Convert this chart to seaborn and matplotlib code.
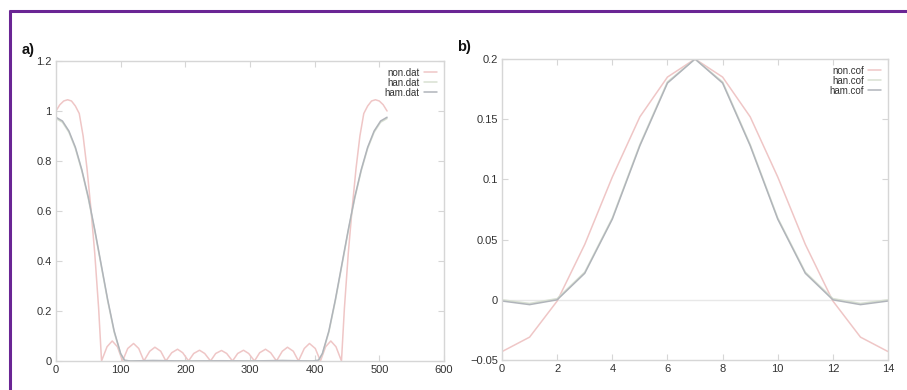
import matplotlib
matplotlib.use("Agg")
import matplotlib.pyplot as plt
from matplotlib.lines import Line2D
import seaborn as sns
import pandas as pd

# ---------------- data: panel a (frequency responses) ----------------
non_dat_x = [0, 6, 12, 18, 24, 30, 36, 42, 48, 54, 60, 66, 70.5,
             79, 87, 95, 103,
             111, 120, 128, 136,
             145, 153, 162, 170,
             179, 188, 196, 205,
             213, 222, 230, 239,
             247, 256, 264, 273,
             281, 290, 298, 307,
             315, 324, 332, 341,
             350, 358, 367, 375,
             384, 392, 401, 409,
             417, 425, 433, 441.5,
             446, 452, 458, 464, 470, 476, 482, 488, 494, 500, 506, 512]
non_dat_y = [1.00, 1.025, 1.04, 1.045, 1.04, 1.02, 0.99, 0.90, 0.77, 0.61, 0.43, 0.21, 0.0,
             0.057, 0.08, 0.057, 0.0,
             0.05, 0.07, 0.05, 0.0,
             0.039, 0.055, 0.039, 0.0,
             0.033, 0.047, 0.033, 0.0,
             0.030, 0.043, 0.030, 0.0,
             0.030, 0.042, 0.030, 0.0,
             0.030, 0.043, 0.030, 0.0,
             0.033, 0.047, 0.033, 0.0,
             0.039, 0.055, 0.039, 0.0,
             0.05, 0.07, 0.05, 0.0,
             0.057, 0.08, 0.057, 0.0,
             0.21, 0.43, 0.61, 0.77, 0.90, 0.99, 1.02, 1.04, 1.045, 1.04, 1.025, 1.00]

ham_dat_x = [0, 10, 20, 30, 40, 50, 60, 70, 80, 90, 100, 106, 115, 150, 200, 256,
             300, 350, 397, 406, 412, 422, 432, 442, 452, 462, 472, 482, 492, 502, 512]
ham_dat_y = [0.975, 0.96, 0.92, 0.855, 0.765, 0.655, 0.525, 0.385, 0.245, 0.12, 0.03, 0.003, 0.0,
             0.002, 0.0, 0.001, 0.0, 0.002, 0.0, 0.003, 0.03, 0.12, 0.245, 0.385, 0.525,
             0.655, 0.765, 0.855, 0.92, 0.96, 0.975]
han_dat_x = ham_dat_x
han_dat_y = [0.97, 0.955, 0.915, 0.85, 0.76, 0.65, 0.52, 0.38, 0.24, 0.115, 0.028, 0.002, 0.0,
             0.0, 0.001, 0.0, 0.001, 0.0, 0.0, 0.002, 0.028, 0.115, 0.24, 0.38, 0.52,
             0.65, 0.76, 0.85, 0.915, 0.955, 0.97]

# ---------------- data: panel b (filter coefficients) ----------------
cof_x = list(range(15))
non_cof = [-0.043, -0.031, -0.001, 0.046, 0.102, 0.152, 0.185, 0.200,
           0.185, 0.152, 0.102, 0.046, -0.001, -0.031, -0.043]
han_cof = [0.0, -0.003, 0.001, 0.023, 0.068, 0.129, 0.181, 0.200,
           0.181, 0.129, 0.068, 0.023, 0.001, -0.003, 0.0]
ham_cof = [-0.001, -0.004, 0.0, 0.022, 0.067, 0.128, 0.180, 0.200,
           0.180, 0.128, 0.067, 0.022, 0.0, -0.004, -0.001]

a_xticks = [0, 100, 200, 300, 400, 500, 600]
a_yticks = [0, 0.2, 0.4, 0.6, 0.8, 1.0, 1.2]
a_ylabels = ["0", "0.2", "0.4", "0.6", "0.8", "1", "1.2"]
b_xticks = [0, 2, 4, 6, 8, 10, 12, 14]
b_yticks = [-0.05, 0, 0.05, 0.1, 0.15, 0.2]
b_ylabels = ["\u22120.05", "0", "0.05", "0.1", "0.15", "0.2"]

a_names = ["non.dat", "han.dat", "ham.dat"]
b_names = ["non.cof", "han.cof", "ham.cof"]

# ---------------- style ----------------
sns.set_theme(style="white")
plt.rcParams["font.family"] = ["Liberation Sans", "DejaVu Sans"]

C_NON = "#efc6c6"
C_HAN = "#d8e0d2"
C_HAM = "#b0b4ba"
FRAME = "#d6d6d6"
colors = [C_NON, C_HAN, C_HAM]
LW = 1.1

fig = plt.figure(figsize=(9.07, 3.90), dpi=100)
fig.patch.set_facecolor("white")

ax_a = fig.add_axes([0.0617, 0.0744, 0.4278, 0.7692])
ax_b = fig.add_axes([0.5535, 0.0769, 0.4256, 0.7718])

dfa = [pd.DataFrame({"x": non_dat_x, "y": non_dat_y}),
       pd.DataFrame({"x": han_dat_x, "y": han_dat_y}),
       pd.DataFrame({"x": ham_dat_x, "y": ham_dat_y})]
dfb = [pd.DataFrame({"x": cof_x, "y": non_cof}),
       pd.DataFrame({"x": cof_x, "y": han_cof}),
       pd.DataFrame({"x": cof_x, "y": ham_cof})]

ax_b.axhline(0, color="#e8e8e8", lw=1.0, zorder=1)

for d, c in zip(dfa, colors):
    sns.lineplot(data=d, x="x", y="y", ax=ax_a, color=c, lw=LW, sort=False)
for d, c in zip(dfb, colors):
    sns.lineplot(data=d, x="x", y="y", ax=ax_b, color=c, lw=LW, sort=False)

def style_axis(ax, xt, yt, yl, xlim, ylim, names):
    ax.set_xlim(*xlim)
    ax.set_ylim(*ylim)
    ax.set_xticks(xt)
    ax.set_xticklabels([str(v) for v in xt])
    ax.set_yticks(yt)
    ax.set_yticklabels(yl)
    ax.set_xlabel("")
    ax.set_ylabel("")
    for s in ax.spines.values():
        s.set_color(FRAME)
        s.set_linewidth(1.0)
    ax.tick_params(axis="both", direction="in", length=4, width=0.8, color=FRAME,
                   labelsize=8, labelcolor="#333333", top=True, right=True,
                   bottom=True, left=True, pad=3)
    handles = [Line2D([0], [0], color=c, lw=LW) for c in colors]
    leg = ax.legend(handles, names, loc="upper right", frameon=False, fontsize=7,
                    markerfirst=False, handlelength=1.4, handletextpad=0.4,
                    labelspacing=0.0, borderaxespad=0.3)
    for t in leg.get_texts():
        t.set_color("#333333")

style_axis(ax_a, a_xticks, a_yticks, a_ylabels, (0, 600), (0, 1.2), a_names)
style_axis(ax_b, b_xticks, b_yticks, b_ylabels, (0, 14), (-0.05, 0.2), b_names)

# panel labels
fig.text(22 / 907, 1 - 50 / 390, "a)", fontsize=10.5, fontweight="bold",
         family=["Liberation Sans Narrow", "Liberation Sans", "DejaVu Sans"],
         va="center", ha="left", color="#111111")
fig.text(457 / 907, 1 - 47 / 390, "b)", fontsize=10.5, fontweight="bold",
         family=["Liberation Sans Narrow", "Liberation Sans", "DejaVu Sans"],
         va="center", ha="left", color="#111111")

# purple frame (top and left)
PURPLE = "#6a2594"
fig.add_artist(Line2D([9 / 907, 1.0], [1 - 10.5 / 390, 1 - 10.5 / 390],
                      transform=fig.transFigure, color=PURPLE, lw=2.2,
                      solid_capstyle="butt"))
fig.add_artist(Line2D([9.5 / 907, 9.5 / 907], [0.0, 1 - 9.5 / 390],
                      transform=fig.transFigure, color=PURPLE, lw=2.2,
                      solid_capstyle="butt"))

fig.savefig("out.png", dpi=100, facecolor="white")
